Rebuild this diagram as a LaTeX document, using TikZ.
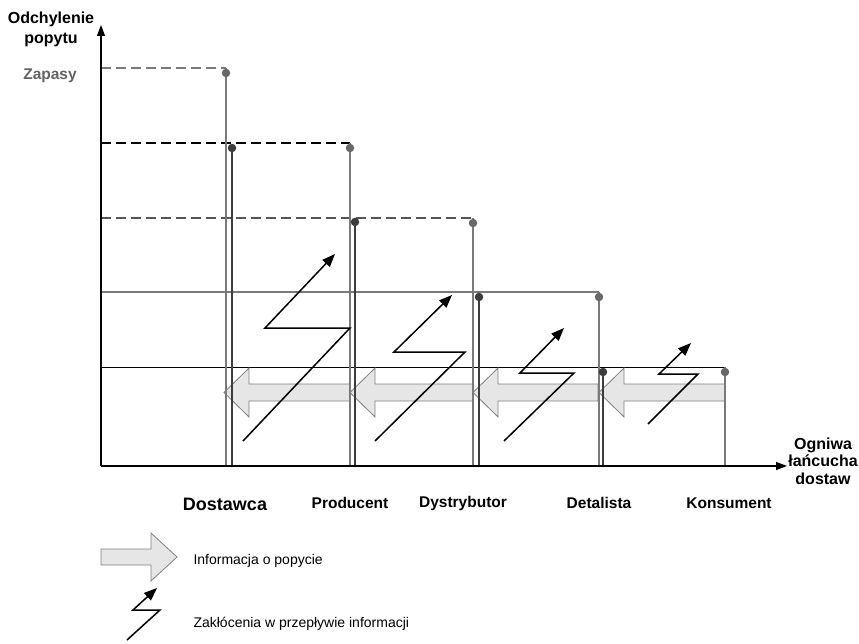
\documentclass[tikz,border=0pt]{standalone}
\usepackage{fontspec}
\setmainfont{Liberation Sans}
\usetikzlibrary{arrows.meta}
\definecolor{lvlgray}{HTML}{7A7A7A}
\definecolor{lvlmid}{HTML}{555555}
\definecolor{lvldark}{HTML}{3C3C3C}
\definecolor{flowfill}{HTML}{E6E6E6}
\definecolor{flowedge}{HTML}{7F7F7F}
\begin{document}
\begin{tikzpicture}[x=1pt,y=-1pt,
  axis/.style={line width=1.4pt,-{Triangle[length=11pt,width=8pt]}},
  dashlvl/.style={line width=1.2pt,dash pattern=on 10pt off 5pt},
  graybar/.style={lvlgray,line width=1.5pt},
  darkbar/.style={lvldark,line width=2pt},
  graydot/.style={circle,fill=lvlgray!85!black,inner sep=0pt,minimum size=8.5pt},
  darkdot/.style={circle,fill=lvldark,inner sep=0pt,minimum size=8.5pt},
  flow/.style={fill=flowfill,draw=flowedge,line width=0.8pt,line join=miter},
  noise/.style={line width=1.5pt,line join=miter,-{Triangle[length=13pt,width=10pt]}},
  lbl/.style={font=\bfseries\fontsize{15.5}{18.5}\selectfont,align=center},
  legend/.style={font=\fontsize{14}{17}\selectfont,anchor=west},
]
\useasboundingbox (0,0) rectangle (859,644);

% axes
\coordinate (O) at (101,466);
\coordinate (ytop) at (101,25);
\coordinate (xend) at (787,466);

% demand-deviation levels
\coordinate (l1) at (101,68);
\coordinate (l2) at (101,143);
\coordinate (l3) at (101,218);
\coordinate (l4) at (101,292);
\coordinate (l5) at (101,367);
\coordinate (g1) at (226,68);
\coordinate (g2) at (350,143);
\coordinate (g3) at (473,218);
\coordinate (g4) at (599,292);
\coordinate (g5) at (725,367);
\draw[dashlvl,lvlgray] (l1) -- (g1);
\draw[dashlvl,black] (l2) -- (g2);
\draw[dashlvl,lvlmid] (l3) -- (g3);
\draw[lvlgray,line width=1.4pt] (l4) -- (g4);
\draw[black,line width=1pt] (l5) -- (g5);

% information flow (block arrows pointing upstream)
\foreach \tip/\rend in {224/350,350/473,473/598,599/725}{
  \draw[flow] (\rend,384) -- (\tip+25,384) -- (\tip+25,368) -- (\tip,392.5)
    -- (\tip+25,417) -- (\tip+25,401) -- (\rend,401) -- cycle;
}

% stock bars of each link
\foreach \x/\y in {226/68,350/143,473/218,599/292,725/367}{
  \draw[graybar] (\x,\y) -- (\x,466);
  \node[graydot] at (\x,\y+5) {};
}
\foreach \x/\y in {232/148,355/222,479/297,603/372}{
  \draw[darkbar] (\x,\y) -- (\x,466);
  \node[darkdot] at (\x,\y) {};
}

\draw[axis] (O) -- (ytop);
\draw[axis] (O) -- (xend);

% distortions in the information flow
\draw[noise] (243,441) -- (350,328) -- (265,328) -- (335,254);
\draw[noise] (375,441) -- (465,352) -- (394,352) -- (452,295);
\draw[noise] (504,441) -- (574,373) -- (520,373) -- (564,328);
\draw[noise] (648,424) -- (698,374) -- (659,374) -- (691,343);

% axis titles
\node[lbl,font=\bfseries\fontsize{16}{20}\selectfont] (ytitle) at (51,29) {Odchylenie\\popytu};
\node[lbl,text=lvlgray!80!black] (zap) at (50,76) {Zapasy};
\node[lbl,font=\bfseries\fontsize{16}{17.5}\selectfont] (xtitle) at (823,461) {Ogniwa\\łańcucha\\dostaw};

% links of the chain
\node[lbl,font=\bfseries\fontsize{18}{20}\selectfont] (dost) at (225,504) {Dostawca};
\node[lbl] (prod) at (350,503) {Producent};
\node[lbl] (dyst) at (463,503) {Dystrybutor};
\node[lbl] (detal) at (599,503) {Detalista};
\node[lbl] (kons) at (729,503) {Konsument};

% legend
\draw[flow] (101,549) -- (151,549) -- (151,533) -- (177,557) -- (151,581)
  -- (151,565) -- (101,565) -- cycle;
\node[legend] (info) at (190,561) {Informacja o popycie};
\draw[noise] (127,640) -- (160,610) -- (133,610) -- (157,588);
\node[legend] (zakl) at (190,624) {Zakłócenia w przepływie informacji};
\end{tikzpicture}
\end{document}
